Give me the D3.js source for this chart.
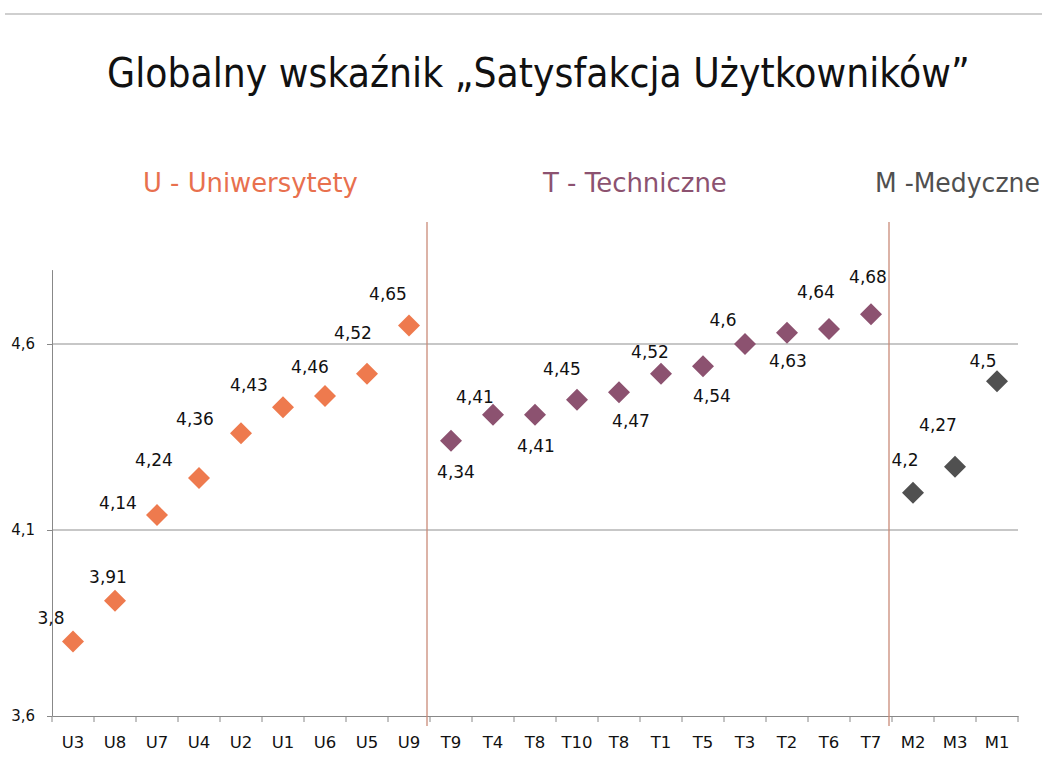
<!DOCTYPE html>
<html><head><meta charset="utf-8">
<script src="https://cdn.jsdelivr.net/npm/d3@7"></script>
<style>
html,body{margin:0;padding:0;background:#fff;}
svg{display:block;font-family:"DejaVu Sans",Verdana,sans-serif;}
</style></head>
<body>
<svg id="c" width="1042" height="758"></svg>
<script>
// ---- data ----
const title = "Globalny wskaźnik „Satysfakcja Użytkowników”";
const groupNames = ["U - Uniwersytety", "T - Techniczne", "M -Medyczne"];
const uniCats = ["U3","U8","U7","U4","U2","U1","U6","U5","U9"];
const uniValues = [3.8,3.91,4.14,4.24,4.36,4.43,4.46,4.52,4.65];
const techCats = ["T9","T4","T8","T10","T8","T1","T5","T3","T2","T6","T7"];
const techValues = [4.34,4.41,4.41,4.45,4.47,4.52,4.54,4.6,4.63,4.64,4.68];
const medCats = ["M2","M3","M1"];
const medValues = [4.2,4.27,4.5];
const yTicks = [3.6, 4.1, 4.6];
const yDomain = [3.6, 4.8];

// ---- layout (label offsets relative to each point, px) ----
const labelDx = [-22,-7,-39,-45,-46,-34,-15,-14,-21,  5,-18,1,-15,12,-11,9,-22,1,-13,-3,  -8,-17,-14];
const labelDy = [-24,-24,-12,-18,-14,-22,-29,-41,-31, 31,-18,31,-31,29,-22,30,-24,28,-37,-37, -33,-42,-20];
const colors = ["#EE7A4E","#8C5270","#505050"];
const legendColors = ["#E8704E","#8C5270","#505050"];

const groups = [
  {cats: uniCats, vals: uniValues},
  {cats: techCats, vals: techValues},
  {cats: medCats, vals: medValues}
];
const points = [];
groups.forEach((g, gi) => g.cats.forEach((c, i) => points.push({cat: c, v: g.vals[i], g: gi})));
points.forEach((p, i) => { p.i = i; p.dx = labelDx[i]; p.dy = labelDy[i]; });

const fmt = v => String(v).replace(".", ",");

const svg = d3.select("#c");
const pLeft = 52, pRight = 1018, pTop = 269.6, pBottom = 716;

const x = d3.scaleBand().domain(points.map(p => p.i)).range([pLeft, pRight]).padding(0);
const y = d3.scaleLinear().domain(yDomain).range([pBottom, pTop]);

// top rule
svg.append("line").attr("x1", 5).attr("x2", 1042).attr("y1", 14).attr("y2", 14)
  .attr("stroke", "#cfcfcf").attr("stroke-width", 2);

// fitted text helper: scale horizontally to a target width
function fitText(str, cx, by, size, width, fill) {
  const g = svg.append("g");
  const t = g.append("text").attr("font-size", size).attr("fill", fill).text(str);
  const w = t.node().getComputedTextLength();
  const s = Math.min(1.05, width / w);
  g.attr("transform", `translate(${cx},${by}) scale(${s},1)`);
  t.attr("x", 0).attr("y", 0);
  return g;
}

// title
fitText(title, 107, 87, 40, 863, "#111");

// group headers
const legendX = [143, 543, 875], legendW = [215, 184, 165];
groupNames.forEach((n, i) => fitText(n, legendX[i], 192, 26, legendW[i], legendColors[i]));

// gridlines
svg.append("g").selectAll("line").data(yTicks.filter(t => t > yDomain[0])).join("line")
  .attr("x1", pLeft).attr("x2", pRight).attr("y1", d => y(d)).attr("y2", d => y(d))
  .attr("stroke", "#8f8f8f").attr("stroke-width", 1);

// y axis
const yAxis = svg.append("g").attr("transform", `translate(${pLeft},0)`)
  .call(d3.axisLeft(y).tickValues(yTicks).tickSize(5).tickSizeOuter(0).tickFormat(fmt));
yAxis.select(".domain").attr("stroke", "#888");
yAxis.selectAll(".tick line").attr("stroke", "#888");
yAxis.selectAll(".tick text").attr("font-family", "DejaVu Sans").attr("font-size", 15)
  .attr("fill", "#111").attr("x", -17);

// x axis
const xAxis = svg.append("g").attr("transform", `translate(0,${pBottom})`)
  .call(d3.axisBottom(x).tickSize(0).tickSizeOuter(0).tickFormat(i => points[i].cat));
xAxis.select(".domain").attr("stroke", "#888");
xAxis.selectAll(".tick text").attr("font-family", "DejaVu Sans").attr("font-size", 16.5)
  .attr("fill", "#111").attr("dy", 0).attr("y", 32);
// boundary ticks
const bounds = points.map(p => x(p.i)).concat([pRight]);
svg.append("g").selectAll("line").data(bounds).join("line")
  .attr("x1", d => d).attr("x2", d => d).attr("y1", pBottom).attr("y2", pBottom + 6)
  .attr("stroke", "#888");

// group separators
const sepIdx = [uniCats.length, uniCats.length + techCats.length];
svg.append("g").selectAll("line").data(sepIdx).join("line")
  .attr("x1", i => x(i) - 3).attr("x2", i => x(i) - 3)
  .attr("y1", 222).attr("y2", pBottom + 10)
  .attr("stroke", "#C98A78").attr("stroke-width", 1.3);

// diamonds
const r = 11;
svg.append("g").selectAll("path").data(points).join("path")
  .attr("d", `M0,${-r}L${r},0L0,${r}L${-r},0Z`)
  .attr("transform", p => `translate(${x(p.i) + x.bandwidth() / 2},${y(p.v)})`)
  .attr("fill", p => colors[p.g]);

// labels
svg.append("g").selectAll("text").data(points).join("text")
  .attr("x", p => x(p.i) + x.bandwidth() / 2 + p.dx)
  .attr("y", p => y(p.v) + p.dy)
  .attr("text-anchor", "middle").attr("dominant-baseline", "central")
  .attr("font-size", 17).attr("fill", "#111")
  .text(p => fmt(p.v));
</script>
</body></html>
